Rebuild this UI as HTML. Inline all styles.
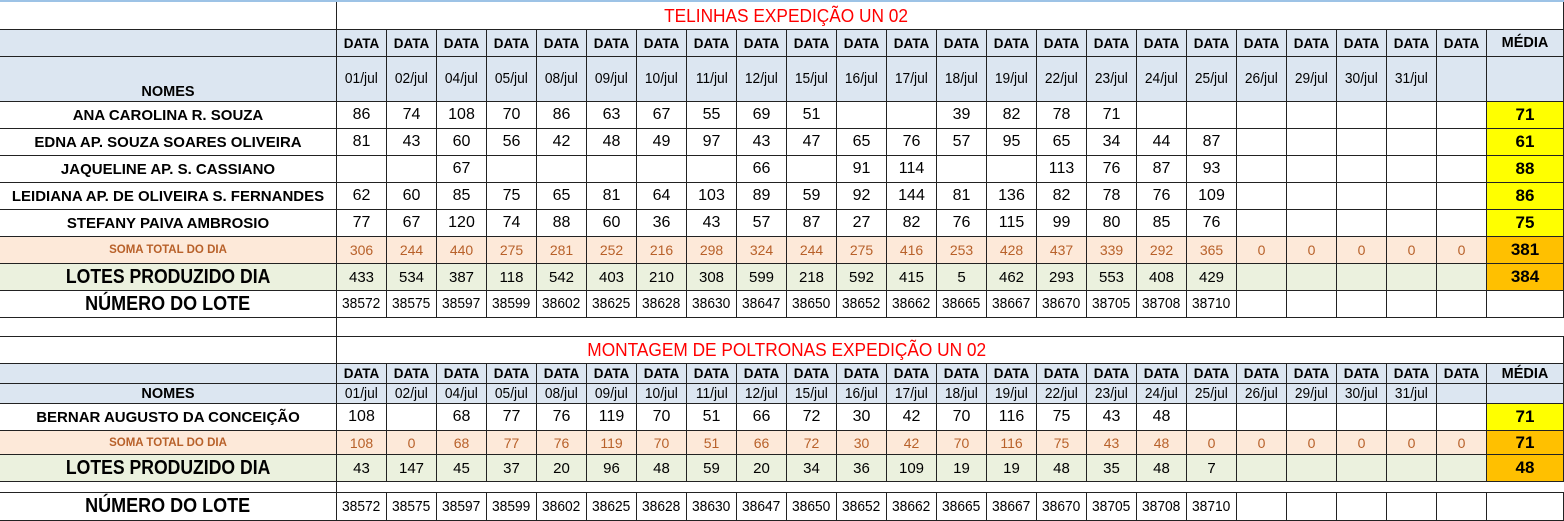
<!DOCTYPE html>
<html><head><meta charset="utf-8">
<style>
body{margin:0;width:1564px;height:521px;overflow:hidden;background:#fff;font-family:"Liberation Sans",sans-serif;}
#sheet{position:relative;width:1564px;height:521px;}
.c{position:absolute;box-sizing:border-box;border:1px solid #222;display:flex;align-items:center;justify-content:center;color:#000;white-space:nowrap;overflow:visible;}
.c span{display:inline-block;transform:scaleX(var(--sx,1));}
.nl{border-left:none;}
.hdr{background:#dce6f1;}
.soma{background:#fde9d9;color:#b8612a;}
.lot{background:#ebf1de;}
.yel{background:#ffff00;font-weight:bold;}
.org{background:#ffc000;font-weight:bold;}
</style></head><body>
<div id="sheet"></div>
<script>
const dates1 = ["01/jul","02/jul","04/jul","05/jul","08/jul","09/jul","10/jul","11/jul","12/jul","15/jul","16/jul","17/jul","18/jul","19/jul","22/jul","23/jul","24/jul","25/jul","26/jul","29/jul","30/jul","31/jul",""];
const names1 = ["ANA CAROLINA R. SOUZA","EDNA AP. SOUZA SOARES OLIVEIRA","JAQUELINE AP.  S. CASSIANO","LEIDIANA AP. DE OLIVEIRA S. FERNANDES","STEFANY PAIVA AMBROSIO"];
const ana = [86,74,108,70,86,63,67,55,69,51,"","",39,82,78,71];
const edna = [81,43,60,56,42,48,49,97,43,47,65,76,57,95,65,34,44,87];
const jaq = ["","",67,"","","","","",66,"",91,114,"","",113,76,87,93];
const leid = [62,60,85,75,65,81,64,103,89,59,92,144,81,136,82,78,76,109];
const stef = [77,67,120,74,88,60,36,43,57,87,27,82,76,115,99,80,85,76];
const media1 = [71,61,88,86,75];
const soma1 = [306,244,440,275,281,252,216,298,324,244,275,416,253,428,437,339,292,365,0,0,0,0,0];
const somaMedia1 = 381;
const lotes1 = [433,534,387,118,542,403,210,308,599,218,592,415,5,462,293,553,408,429];
const lotesMedia1 = 384;
const numLote = [38572,38575,38597,38599,38602,38625,38628,38630,38647,38650,38652,38662,38665,38667,38670,38705,38708,38710];
const bernar = [108,"",68,77,76,119,70,51,66,72,30,42,70,116,75,43,48];
const bernarMedia = 71;
const soma2 = [108,0,68,77,76,119,70,51,66,72,30,42,70,116,75,43,48,0,0,0,0,0,0];
const somaMedia2 = 71;
const lotes2 = [43,147,45,37,20,96,48,59,20,34,36,109,19,19,48,35,48,7];
const lotesMedia2 = 48;

const S = document.getElementById('sheet');
const X0 = 336, CW = 50, NC = 23, MX = X0 + CW*NC, MW = 1563 - MX;
function cell(x,y,w,h,txt,cls,style,name){
  const d=document.createElement('div');
  d.className='c '+(cls||'');
  d.style.left=x+'px';d.style.top=y+'px';d.style.width=(w+1)+'px';d.style.height=(h+1)+'px';
  if(style) d.style.cssText+=style;
  if(txt!==''&&txt!==undefined&&txt!==null){const s=document.createElement('span');s.textContent=txt;d.appendChild(s);}
  
  
  S.appendChild(d);return d;
}
function row(y,h,label,labelStyle,vals,cls,valStyle,media,mcls,name){
  cell(0,y,X0,h,label,'nl '+(cls||''),labelStyle,name+'-label');
  for(let i=0;i<NC;i++){
    const v = i<vals.length?vals[i]:'';
    cell(X0+i*CW,y,CW,h,v,cls,valStyle,name+'-cell');
  }
  cell(MX,y,MW,h,media,mcls||cls,valStyle+';font-size:17px',name+'-media');
}
function headers(y1,h1,y2,h2,dates,nomesStyle){
  cell(0,y1,X0,h1,'','nl hdr','border-bottom:none','header-blank');
  for(let i=0;i<NC;i++) cell(X0+i*CW,y1,CW,h1,'DATA','hdr','font-weight:bold;font-size:13.5px','data-header');
  cell(MX,y1,MW,h1,'MÉDIA','hdr','font-weight:bold;font-size:14.5px','media-header');
  cell(0,y2,X0,h2,'NOMES','nl hdr','font-weight:bold;font-size:14.5px;'+nomesStyle,'nomes-header');
  for(let i=0;i<NC;i++) cell(X0+i*CW,y2,CW,h2,dates[i],'hdr','font-size:14.5px;--sx:.95','date-header');
  cell(MX,y2,MW,h2,'','hdr','','media-header-blank');
}
function block(title,ty,th,hy1,hh1,hy2,hh2,nomesStyle){
  cell(0,ty,X0,th,'','nl','border-top:none;border-bottom:none','title-blank');
  cell(X0,ty,MX+MW-X0,th,'', '', 'border-top:none','title-cell');
  cell(X0,ty,900,th,title,'','border:none;color:#ff0000;font-size:18px;--sx:.96;justify-content:center','section-title');
  headers(hy1,hh1,hy2,hh2,dates1,nomesStyle);
}
const bl=document.createElement('div');bl.style.cssText='position:absolute;left:0;top:0;width:1564px;height:2px;background:#9dc3e6';


S.appendChild(bl);

const NS='font-weight:bold;font-size:15px';
const NUM='font-size:16px';
block('TELINHAS EXPEDIÇÃO UN 02',2,27,29,27,56,45,'align-items:flex-end;padding-bottom:1px');
const people=[ana,edna,jaq,leid,stef];
for(let p=0;p<5;p++) row(101+p*27,27,names1[p],NS,people[p],'',NUM,media1[p],'yel','person-row');
row(236,27,'SOMA TOTAL DO DIA','font-weight:bold;font-size:11.5px',soma1,'soma','font-size:14px',somaMedia1,'org','soma-row');
row(263,27,'LOTES PRODUZIDO DIA','font-weight:bold;font-size:20px;--sx:.88',lotes1,'lot','font-size:15px',lotesMedia1,'org','lotes-row');
row(290,27,'NÚMERO DO LOTE','font-weight:bold;font-size:20px;--sx:.9',numLote,'','font-size:14.5px;--sx:.95','','','numero-row');
cell(0,317,X0,19,'','nl','','spacer');
cell(X0,317,MX+MW-X0,19,'','','border-right:none','spacer');
block('MONTAGEM DE POLTRONAS EXPEDIÇÃO UN 02',336,27,363,20,383,20,'');
row(403,27,'BERNAR AUGUSTO DA CONCEIÇÃO',NS,bernar,'',NUM,bernarMedia,'yel','person-row');
row(430,24,'SOMA TOTAL DO DIA','font-weight:bold;font-size:11.5px',soma2,'soma','font-size:14px',somaMedia2,'org','soma-row');
row(454,27,'LOTES PRODUZIDO DIA','font-weight:bold;font-size:20px;--sx:.88',lotes2,'lot','font-size:15px',lotesMedia2,'org','lotes-row');
cell(0,481,X0,11,'','nl','','spacer');
cell(X0,481,MX+MW-X0,11,'','','border-right:none','spacer');
row(492,28,'NÚMERO DO LOTE','font-weight:bold;font-size:20px;--sx:.9',numLote,'','font-size:14.5px;--sx:.95','','','numero-row');
</script>
</body></html>
